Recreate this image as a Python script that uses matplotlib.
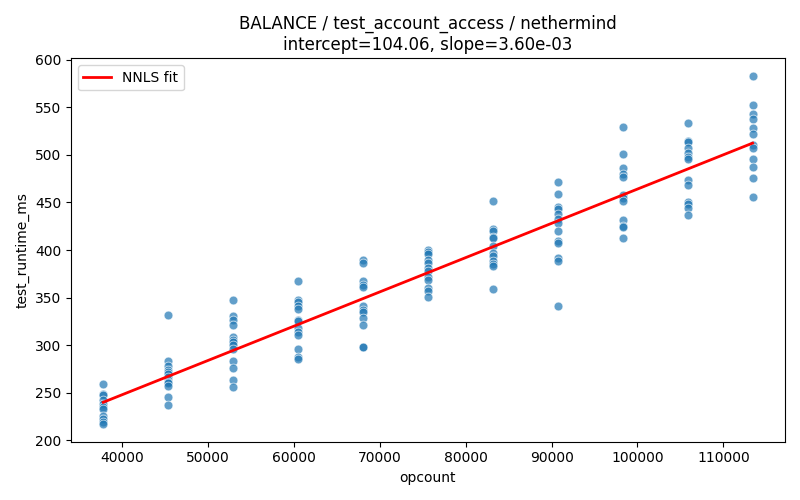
import numpy as np
import matplotlib
matplotlib.use("Agg")
import matplotlib.pyplot as plt

opcounts = [37800, 45360, 52920, 60480, 68040, 75600, 83160, 90720, 98280, 105840, 113400]
runtimes = [
    [259, 249, 248, 243, 238, 235, 233, 226, 223, 219, 217],
    [332, 284, 278, 274, 272, 270, 267, 264, 261, 260, 257, 246, 237],
    [348, 331, 327, 321, 309, 306, 303, 300, 296, 283, 276, 264, 256],
    [367, 348, 345, 341, 338, 327, 325, 318, 314, 311, 296, 288, 286],
    [390, 386, 367, 363, 361, 341, 337, 335, 329, 321, 298, 298],
    [400, 398, 396, 390, 386, 381, 378, 372, 369, 360, 357, 351],
    [452, 422, 420, 414, 413, 404, 397, 394, 388, 385, 383, 359],
    [472, 459, 445, 443, 438, 433, 428, 420, 410, 407, 392, 389, 341],
    [529, 501, 486, 480, 477, 458, 455, 452, 432, 425, 424, 413],
    [533, 515, 513, 507, 502, 498, 496, 474, 468, 451, 448, 444, 437],
    [583, 552, 543, 538, 528, 522, 510, 507, 496, 487, 476, 456],
]

intercept = 104.06
slope = 3.60e-03

x = np.concatenate([[oc] * len(r) for oc, r in zip(opcounts, runtimes)])
y = np.concatenate(runtimes)

fig, ax = plt.subplots(figsize=(8, 5), dpi=100)
ax.scatter(x, y, s=40, color="#1f77b4", alpha=0.7, edgecolors="white", linewidths=0.6)

xs = np.array([min(opcounts), max(opcounts)])
ax.plot(xs, intercept + slope * xs, color="red", linewidth=2, label="NNLS fit")

ax.set_xlabel("opcount")
ax.set_ylabel("test_runtime_ms")
ax.set_title(f"BALANCE / test_account_access / nethermind\nintercept={intercept:.2f}, slope={slope:.2e}")
ax.set_yticks(np.arange(200, 601, 50))
ax.legend(loc="upper left")

plt.tight_layout()
plt.savefig("out.png")
